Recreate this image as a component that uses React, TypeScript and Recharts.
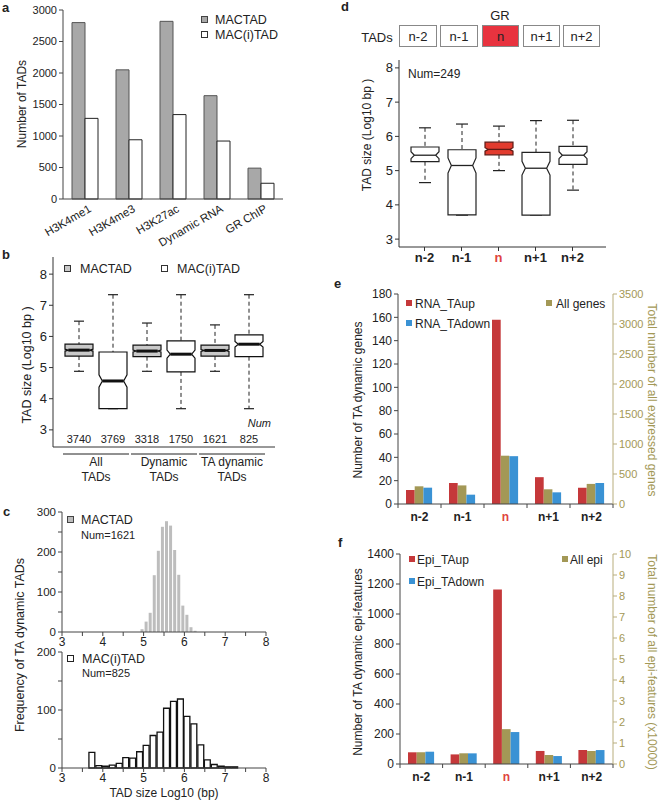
import React from 'react'
import { BarChart, ComposedChart, Bar, XAxis, YAxis } from 'recharts'

const FONT = "'Liberation Sans', Arial, Helvetica, sans-serif"
const INK = '#222'
const AXIS = '#444'
const GRAY_BAR = '#a8a8a8'
const GRAY_BOX = '#c9c9c9'
const HIST_GRAY = '#bdbdbd'
const RED = '#c5383a'
const BLUE = '#3a92d4'
const OLIVE = '#a39856'
const OLIVE_AXIS = '#b8ad7c'
const HOT = '#e0443f'

// ---- panel a ----
const MARKS = ['H3K4me1', 'H3K4me3', 'H3K27ac', 'Dynamic RNA', 'GR ChIP']
const MACTAD_COUNTS = [2800, 2050, 2820, 1640, 490]
const MACITAD_COUNTS = [1280, 940, 1340, 920, 250]
const A_TICKS = [0, 500, 1000, 1500, 2000, 2500, 3000]

// ---- panel b ----
const B_GROUPS = [['All', 'TADs'], ['Dynamic', 'TADs'], ['TA dynamic', 'TADs']]
const B_KIND = ['MACTAD', 'MAC(i)TAD', 'MACTAD', 'MAC(i)TAD', 'MACTAD', 'MAC(i)TAD']
const B_NUM = [3740, 3769, 3318, 1750, 1621, 825]
const B_LO = [4.88, 3.68, 4.88, 3.68, 4.88, 3.68]
const B_Q1 = [5.37, 3.68, 5.35, 4.86, 5.37, 5.35]
const B_MED = [5.56, 4.57, 5.53, 5.43, 5.55, 5.75]
const B_Q3 = [5.75, 5.5, 5.72, 5.86, 5.72, 6.05]
const B_HI = [6.49, 7.34, 6.43, 7.34, 6.37, 7.34]
const B_NOTCH = [0.03, 0.2, 0.03, 0.13, 0.03, 0.09]
const LOG_TICKS = [3, 4, 5, 6, 7, 8]

// ---- panel c ----
const SIZE_TICKS = [3, 3.5, 4, 4.5, 5, 5.5, 6, 6.5, 7, 7.5, 8]
const TOP_BINS = [4.95, 5.05, 5.15, 5.25, 5.35, 5.45, 5.55, 5.65, 5.75, 5.85, 5.95, 6.05, 6.15, 6.25]
const TOP_FREQ = [7, 26, 48, 142, 203, 263, 277, 266, 205, 143, 66, 43, 12, 3]
const TOP_Y_TICKS = [0, 50, 100, 150, 200, 250, 300]
const LOW_BINS = [3.74, 3.91, 4.07, 4.24, 4.41, 4.57, 4.74, 4.91, 5.07, 5.24, 5.41, 5.57, 5.74, 5.91, 6.07, 6.24, 6.41, 6.57, 6.74, 6.91, 7.07, 7.24]
const LOW_FREQ = [27, 4, 3, 5, 8, 18, 17, 28, 39, 56, 62, 103, 115, 119, 89, 76, 40, 14, 6, 3, 2, 2]
const LOW_Y_TICKS = [0, 50, 100, 150, 200]

// ---- panel d ----
const NEIGHBORS = ['n-2', 'n-1', 'n', 'n+1', 'n+2']
const D_LO = [4.65, 3.7, 5.0, 3.7, 4.43]
const D_Q1 = [5.26, 3.71, 5.46, 3.7, 5.18]
const D_MED = [5.45, 5.15, 5.62, 5.07, 5.45]
const D_Q3 = [5.69, 5.61, 5.83, 5.53, 5.71]
const D_HI = [6.25, 6.36, 6.3, 6.46, 6.47]
const D_NOTCH = [0.1, 0.22, 0.05, 0.2, 0.1]

// ---- panel e ----
const RNA_UP = [12, 18, 158, 23, 14]
const RNA_DOWN = [14, 8, 41, 10, 18]
const ALL_GENES = [295, 310, 805, 245, 335]
const E_LEFT_TICKS = [0, 20, 40, 60, 80, 100, 120, 140, 160, 180]
const E_RIGHT_TICKS = [0, 500, 1000, 1500, 2000, 2500, 3000, 3500]

// ---- panel f ----
const EPI_UP = [78, 64, 1164, 87, 93]
const EPI_DOWN = [82, 71, 213, 53, 93]
const ALL_EPI = [0.56, 0.51, 1.66, 0.43, 0.62]
const F_LEFT_TICKS = [0, 200, 400, 600, 800, 1000, 1200, 1400]
const F_RIGHT_TICKS = [0, 1, 2, 3, 4, 5, 6, 7, 8, 9, 10]

const aData = MARKS.map((m, i) => ({ mark: m, mactad: MACTAD_COUNTS[i], macitad: MACITAD_COUNTS[i] }))
const bData = B_KIND.map((k, i) => ({
  id: `b${i}`, kind: k, lo: B_LO[i], q1: B_Q1[i], med: B_MED[i], q3: B_Q3[i], hi: B_HI[i], notch: B_NOTCH[i],
}))
const topData = TOP_BINS.map((b, i) => ({ bin: b, freq: TOP_FREQ[i] }))
const lowData = LOW_BINS.map((b, i) => ({ bin: b, freq: LOW_FREQ[i] }))
const dData = NEIGHBORS.map((n, i) => ({
  pos: n, lo: D_LO[i], q1: D_Q1[i], med: D_MED[i], q3: D_Q3[i], hi: D_HI[i], notch: D_NOTCH[i],
}))
const eData = NEIGHBORS.map((n, i) => ({ pos: n, up: RNA_UP[i], down: RNA_DOWN[i], all: ALL_GENES[i] }))
const fData = NEIGHBORS.map((n, i) => ({ pos: n, up: EPI_UP[i], down: EPI_DOWN[i], all: ALL_EPI[i] }))

// small html helpers for labels / legends
function Txt({ x, y, text, size = 12, color = INK, bold = false, italic = false, align = 'left', rotate = 0 }: any) {
  const tx = align === 'left' ? '0' : align === 'center' ? '-50%' : '-100%'
  return (
    <div
      style={{
        position: 'absolute', left: x, top: y, whiteSpace: 'nowrap', lineHeight: 1,
        transform: `translate(${tx}, -50%)${rotate ? ` rotate(${rotate}deg)` : ''}`,
        fontSize: size, color, fontWeight: bold ? 700 : 400, fontStyle: italic ? 'italic' : 'normal',
      }}
    >
      {text}
    </div>
  )
}

function Sq({ x, y, s = 7, fill, stroke = 'none' }: any) {
  return (
    <div style={{
      position: 'absolute', left: x, top: y, width: s, height: s, boxSizing: 'border-box',
      background: fill, border: stroke === 'none' ? 'none' : `1.3px solid ${stroke}`,
    }} />
  )
}

function Place({ x, y, children }: any) {
  return <div style={{ position: 'absolute', left: x, top: y }}>{children}</div>
}

// notched box drawn inside the [lo, hi] range bar
function NotchedBox(props: any) {
  const { x, y, width, height, payload, boxFill, boxStroke, medianWidth, capHalf } = props
  if (!payload) return null
  const top = Math.min(y, y + height)
  const h = Math.abs(height)
  const { lo, q1, med, q3, hi, notch } = payload
  const py = (v: number) => top + ((hi - v) / (hi - lo)) * h
  const cx = x + width / 2
  const ind = width * 0.12
  const yq3 = py(q3)
  const yq1 = py(q1)
  const ym = py(med)
  const yn1 = Math.max(py(med + notch), yq3)
  const yn2 = Math.min(py(med - notch), yq1)
  const r = x + width
  const pts = [
    [x, yq3], [r, yq3], [r, yn1], [r - ind, ym], [r, yn2], [r, yq1],
    [x, yq1], [x, yn2], [x + ind, ym], [x, yn1],
  ].map((p) => p.join(',')).join(' ')
  return (
    <g>
      <line x1={cx} x2={cx} y1={py(hi)} y2={yq3} stroke={INK} strokeDasharray="4 3" />
      {yq1 < py(lo) - 0.5 && <line x1={cx} x2={cx} y1={yq1} y2={py(lo)} stroke={INK} strokeDasharray="4 3" />}
      <line x1={cx - capHalf} x2={cx + capHalf} y1={py(hi)} y2={py(hi)} stroke={INK} strokeWidth={1.2} />
      <line x1={cx - capHalf} x2={cx + capHalf} y1={py(lo)} y2={py(lo)} stroke={INK} strokeWidth={1.2} />
      <polygon points={pts} fill={boxFill} stroke={boxStroke} strokeWidth={1.2} />
      <line x1={x + ind} x2={r - ind} y1={ym} y2={ym} stroke={boxStroke} strokeWidth={medianWidth} />
    </g>
  )
}

const ATick = (p: any) => {
  const ax = p.x + 7
  const ay = p.y + 4
  return (
    <text x={ax} y={ay} transform={`rotate(-30 ${ax} ${ay})`} textAnchor="end" fontSize={11.5} fill={INK} fontFamily={FONT}>
      {p.payload.value}
    </text>
  )
}

const BTick = (p: any) => {
  const { x, y, index, payload } = p
  const half = payload?.offset || 17
  const mid = x + half
  const g = B_GROUPS[index / 2]
  return (
    <g fontFamily={FONT}>
      <text x={x} y={y - 4} textAnchor="middle" fontSize={11} fill={INK}>{B_NUM[index]}</text>
      {index % 2 === 0 && g && (
        <g>
          <line x1={mid - 33} x2={mid + 33} y1={y + 7} y2={y + 7} stroke={INK} />
          <text x={mid} y={y + 19} textAnchor="middle" fontSize={12} fill={INK}>{g[0]}</text>
          <text x={mid} y={y + 34} textAnchor="middle" fontSize={12} fill={INK}>{g[1]}</text>
        </g>
      )}
    </g>
  )
}

const DTick = (p: any) => {
  const hot = p.payload.value === 'n'
  return (
    <text x={p.x} y={p.y} dy="0.71em" textAnchor="middle" fontSize={13} fontWeight={700} fill={hot ? HOT : INK} fontFamily={FONT}>
      {p.payload.value}
    </text>
  )
}

const neighborTick = (band: number) => (p: any) => {
  const { x, y, index, payload } = p
  const half = payload?.offset || band / 2
  const hot = payload.value === 'n'
  return (
    <g>
      <line x1={x - half} x2={x - half} y1={y} y2={y + 4} stroke={AXIS} />
      {index === NEIGHBORS.length - 1 && <line x1={x + half} x2={x + half} y1={y} y2={y + 4} stroke={AXIS} />}
      <text x={x} y={y + 17} textAnchor="middle" fontSize={12} fontWeight={700} fill={hot ? HOT : INK} fontFamily={FONT}>
        {payload.value}
      </text>
    </g>
  )
}

const tickStyle = (size: number, fill = INK) => ({ fontSize: size, fill, fontFamily: FONT })

function PanelA() {
  return (
    <>
      <Place x={0} y={0}>
        <BarChart width={300} height={262} data={aData} margin={{ top: 10, right: 17, left: 0, bottom: 0 }} barGap={0}>
          <XAxis dataKey="mark" height={63} interval={0} tickLine={false} axisLine={{ stroke: AXIS }} tick={ATick} />
          <YAxis width={63} domain={[0, 3000]} ticks={A_TICKS} tickSize={4} tick={tickStyle(11)}
            axisLine={{ stroke: AXIS }} tickLine={{ stroke: AXIS }} />
          <Bar dataKey="mactad" barSize={13} fill={GRAY_BAR} stroke="#555" isAnimationActive={false} />
          <Bar dataKey="macitad" barSize={13} fill="#fff" stroke={INK} isAnimationActive={false} />
        </BarChart>
      </Place>
      <Txt x={2} y={7} text="a" size={13} bold />
      <Txt x={22} y={104} text="Number of TADs" size={12} align="center" rotate={-90} />
      <Sq x={201} y={16} fill={GRAY_BAR} stroke="#444" />
      <Txt x={215} y={19.5} text="MACTAD" size={12.5} />
      <Sq x={201} y={31} fill="#fff" stroke="#333" />
      <Txt x={215} y={34.5} text="MAC(i)TAD" size={12.5} />
    </>
  )
}

function PanelB() {
  return (
    <>
      <Place x={0} y={250}>
        <ComposedChart width={285} height={240} data={bData} margin={{ top: 7, right: 10, left: 0, bottom: 0 }}>
          <XAxis dataKey="id" height={43} interval={0} padding={{ left: 9, right: 9 }} tickLine={false} tickSize={0}
            tickMargin={0} axisLine={{ stroke: '#333' }} tick={BTick} />
          <XAxis xAxisId="top" orientation="top" height={0} tick={false} tickLine={false} axisLine={{ stroke: '#333' }} />
          <YAxis width={53} domain={[2.45, 8.55]} ticks={LOG_TICKS} tickSize={4} tick={tickStyle(13)}
            axisLine={{ stroke: '#333' }} tickLine={{ stroke: '#333' }} />
          <YAxis yAxisId="r" orientation="right" width={0} domain={[0, 1]} tick={false} tickLine={false}
            axisLine={{ stroke: '#333' }} />
          <Bar
            dataKey={(d: any) => [d.lo, d.hi]}
            barSize={28}
            isAnimationActive={false}
            shape={(p: any) => (
              <NotchedBox {...p} boxFill={p.payload?.kind === 'MACTAD' ? GRAY_BOX : '#fff'} boxStroke="#111"
                medianWidth={3} capHalf={5} />
            )}
          />
        </ComposedChart>
      </Place>
      <Txt x={2} y={254} text="b" size={13} bold />
      <Txt x={27} y={365} text="TAD size (Log10 bp )" size={12.5} align="center" rotate={-90} />
      <Sq x={64} y={265} fill={GRAY_BOX} stroke="#333" />
      <Txt x={80} y={268.5} text="MACTAD" size={12.5} />
      <Sq x={161} y={265} fill="#fff" stroke="#333" />
      <Txt x={177} y={268.5} text="MAC(i)TAD" size={12.5} />
      <Txt x={271} y={423} text="Num" size={11} italic align="right" />
    </>
  )
}

function PanelC() {
  const intLabel = (v: number) => (Number.isInteger(v) ? String(v) : '')
  return (
    <>
      <Place x={0} y={502}>
        <BarChart width={280} height={150} data={topData} margin={{ top: 10, right: 14, left: 0, bottom: 0 }}>
          <XAxis dataKey="bin" type="number" domain={[3, 8]} ticks={SIZE_TICKS} interval={0} tickFormatter={intLabel}
            height={20} tickSize={4} tickMargin={1} tick={tickStyle(12)} axisLine={{ stroke: AXIS }} tickLine={{ stroke: AXIS }} />
          <YAxis width={62} domain={[0, 300]} ticks={TOP_Y_TICKS} interval={0} tickFormatter={(v: number) => (v % 100 === 0 ? String(v) : '')}
            tickSize={4} tick={tickStyle(11.5)} axisLine={{ stroke: AXIS }} tickLine={{ stroke: AXIS }} />
          <Bar dataKey="freq" barSize={3} fill={HIST_GRAY} isAnimationActive={false} />
        </BarChart>
      </Place>
      <Place x={0} y={642}>
        <BarChart width={280} height={150} data={lowData} margin={{ top: 10, right: 14, left: 0, bottom: 0 }}>
          <XAxis dataKey="bin" type="number" domain={[3, 8]} ticks={SIZE_TICKS} interval={0} tickFormatter={intLabel}
            height={24} tickSize={4} tickMargin={1} tick={tickStyle(12)} axisLine={{ stroke: AXIS }} tickLine={{ stroke: AXIS }} />
          <YAxis width={62} domain={[0, 200]} ticks={LOW_Y_TICKS} interval={0} tickFormatter={(v: number) => (v % 100 === 0 ? String(v) : '')}
            tickSize={4} tick={tickStyle(11.5)} axisLine={{ stroke: AXIS }} tickLine={{ stroke: AXIS }} />
          <Bar dataKey="freq" barSize={6.6} fill="#fff" stroke="#111" strokeWidth={1.3} isAnimationActive={false} />
        </BarChart>
      </Place>
      <Txt x={3} y={511} text="c" size={13} bold />
      <Txt x={20} y={645} text="Frequency of TA dynamic TADs" size={12.5} align="center" rotate={-90} />
      <Sq x={67} y={516} fill={HIST_GRAY} stroke="#444" />
      <Txt x={81} y={520} text="MACTAD" size={12.5} />
      <Txt x={81} y={535} text="Num=1621" size={11} />
      <Sq x={67} y={655} fill="#fff" stroke="#222" />
      <Txt x={82} y={658.5} text="MAC(i)TAD" size={12.5} />
      <Txt x={82} y={673} text="Num=825" size={11} />
      <Txt x={164} y={793} text="TAD size Log10 (bp)" size={12} align="center" />
    </>
  )
}

function PanelD() {
  const head = [
    { t: 'n-2', x: 399, w: 38 }, { t: 'n-1', x: 440, w: 38 }, { t: 'n', x: 482, w: 37 },
    { t: 'n+1', x: 523, w: 37 }, { t: 'n+2', x: 563, w: 37 },
  ]
  return (
    <>
      <Place x={340} y={50}>
        <ComposedChart width={280} height={225} data={dData} margin={{ top: 10, right: 14, left: 0, bottom: 0 }}>
          <XAxis dataKey="pos" height={28} interval={0} padding={{ left: 7, right: 15 }} tickSize={4}
            axisLine={{ stroke: '#333' }} tickLine={{ stroke: '#333' }} tick={DTick} />
          <XAxis xAxisId="top" orientation="top" height={0} tick={false} tickLine={false} axisLine={{ stroke: '#333' }} />
          <YAxis width={59} domain={[2.77, 8.23]} ticks={LOG_TICKS} tickSize={4} tick={tickStyle(13)}
            axisLine={{ stroke: '#333' }} tickLine={{ stroke: '#333' }} />
          <YAxis yAxisId="r" orientation="right" width={0} domain={[0, 1]} tick={false} tickLine={false}
            axisLine={{ stroke: '#333' }} />
          <Bar
            dataKey={(d: any) => [d.lo, d.hi]}
            barSize={28}
            isAnimationActive={false}
            shape={(p: any) => {
              const hot = p.payload?.pos === 'n'
              return (
                <NotchedBox {...p} boxFill={hot ? '#e23b2e' : '#fff'} boxStroke={hot ? '#5e1a14' : '#222'}
                  medianWidth={1.3} capHalf={6} />
              )
            }}
          />
        </ComposedChart>
      </Place>
      <Txt x={341} y={6} text="d" size={13} bold />
      <Txt x={500} y={15} text="GR" size={13} align="center" />
      <Txt x={377} y={37} text="TADs" size={13} align="center" />
      {head.map((h) => (
        <div key={h.t} style={{
          position: 'absolute', left: h.x, top: 25, width: h.w, height: 22, boxSizing: 'border-box',
          border: '1.2px solid #888', background: h.t === 'n' ? '#e8333f' : '#fff',
          display: 'flex', alignItems: 'center', justifyContent: 'center', fontSize: 13, color: INK,
        }}>{h.t}</div>
      ))}
      <Txt x={408} y={74} text="Num=249" size={12} />
      <Txt x={367} y={135} text="TAD size (Log10 bp )" size={12} align="center" rotate={-90} />
    </>
  )
}

function PanelE() {
  return (
    <>
      <Place x={330} y={284}>
        <BarChart width={330} height={245} data={eData} margin={{ top: 10, right: 0, left: 0, bottom: 0 }} barGap={0}>
          <XAxis dataKey="pos" height={25} interval={0} tickLine={false} tickSize={0} tickMargin={0}
            axisLine={{ stroke: AXIS }} tick={neighborTick(43)} />
          <YAxis yAxisId="l" width={68} domain={[0, 180]} ticks={E_LEFT_TICKS} interval={0} tickSize={4}
            tick={tickStyle(12)} axisLine={{ stroke: AXIS }} tickLine={{ stroke: AXIS }} />
          <YAxis yAxisId="r" orientation="right" width={47} domain={[0, 3500]} ticks={E_RIGHT_TICKS} interval={0}
            tickSize={4} tick={tickStyle(11, OLIVE)} axisLine={{ stroke: OLIVE_AXIS }} tickLine={{ stroke: OLIVE_AXIS }} />
          <Bar yAxisId="l" dataKey="up" barSize={8.7} fill={RED} isAnimationActive={false} />
          <Bar yAxisId="r" dataKey="all" barSize={8.7} fill={OLIVE} isAnimationActive={false} />
          <Bar yAxisId="l" dataKey="down" barSize={8.7} fill={BLUE} isAnimationActive={false} />
        </BarChart>
      </Place>
      <Txt x={334} y={283} text="e" size={13} bold />
      <Sq x={406} y={300} s={6} fill={RED} />
      <Txt x={415} y={303.5} text="RNA_TAup" size={12} />
      <Sq x={406} y={320} s={6} fill={BLUE} />
      <Txt x={415} y={323.5} text="RNA_TAdown" size={12} />
      <Sq x={546} y={300} s={6} fill={OLIVE} />
      <Txt x={556} y={303.5} text="All genes" size={12} />
      <Txt x={358} y={400} text="Number of TA dynamic genes" size={12} align="center" rotate={-90} />
      <Txt x={652} y={400} text="Total number of all expressed genes" size={12} color={OLIVE} align="center" rotate={90} />
    </>
  )
}

function PanelF() {
  return (
    <>
      <Place x={330} y={544}>
        <BarChart width={330} height={245} data={fData} margin={{ top: 10, right: 0, left: 0, bottom: 0 }} barGap={0}>
          <XAxis dataKey="pos" height={25} interval={0} tickLine={false} tickSize={0} tickMargin={0}
            axisLine={{ stroke: AXIS }} tick={neighborTick(42.6)} />
          <YAxis yAxisId="l" width={70} domain={[0, 1400]} ticks={F_LEFT_TICKS} interval={0} tickSize={4}
            tick={tickStyle(12)} axisLine={{ stroke: AXIS }} tickLine={{ stroke: AXIS }} />
          <YAxis yAxisId="r" orientation="right" width={47} domain={[0, 10]} ticks={F_RIGHT_TICKS} interval={0}
            tickSize={4} tick={tickStyle(11, OLIVE)} axisLine={{ stroke: OLIVE_AXIS }} tickLine={{ stroke: OLIVE_AXIS }} />
          <Bar yAxisId="l" dataKey="up" barSize={8.7} fill={RED} isAnimationActive={false} />
          <Bar yAxisId="r" dataKey="all" barSize={8.7} fill={OLIVE} isAnimationActive={false} />
          <Bar yAxisId="l" dataKey="down" barSize={8.7} fill={BLUE} isAnimationActive={false} />
        </BarChart>
      </Place>
      <Txt x={338} y={542} text="f" size={13} bold />
      <Sq x={409} y={556} s={6} fill={RED} />
      <Txt x={417} y={559.5} text="Epi_TAup" size={12} />
      <Sq x={409} y={578} s={6} fill={BLUE} />
      <Txt x={417} y={581.5} text="Epi_TAdown" size={12} />
      <Sq x={562} y={556} s={6} fill={OLIVE} />
      <Txt x={570} y={559.5} text="All epi" size={12} />
      <Txt x={358} y={662} text="Number of TA dynamic epi-features" size={12} align="center" rotate={-90} />
      <Txt x={652} y={662} text="Total number of all epi-features (x10000)" size={12} color={OLIVE} align="center" rotate={90} />
    </>
  )
}

export default function App() {
  return (
    <div style={{
      position: 'absolute', left: 0, top: 0, width: 660, height: 800, overflow: 'hidden',
      background: '#fff', fontFamily: FONT, color: INK,
    }}>
      <PanelA />
      <PanelB />
      <PanelC />
      <PanelD />
      <PanelE />
      <PanelF />
    </div>
  )
}
